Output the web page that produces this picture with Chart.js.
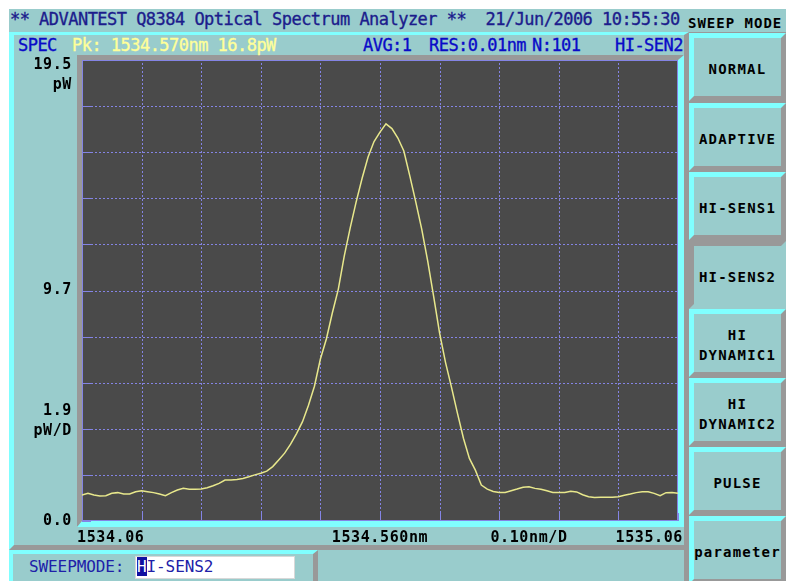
<!DOCTYPE html>
<html>
<head>
<meta charset="utf-8">
<title>Q8384 Optical Spectrum Analyzer</title>
<script src="https://cdn.jsdelivr.net/npm/chart.js@4.4.1/dist/chart.umd.min.js"></script>
<style>
  html, body { margin: 0; padding: 0; background: #ffffff; }
  #screen { position: relative; width: 786px; height: 581px; overflow: hidden; background: #ffffff;
            font-family: "DejaVu Sans Mono", "Liberation Mono", monospace; }
  .box { position: absolute; box-sizing: border-box; }
  .txt { position: absolute; white-space: pre; line-height: 20px; height: 20px; }
  #bg { left: 9px; top: 9px; width: 777px; height: 572px; background: #99cccc; }
  #btncol { left: 684px; top: 32px; width: 102px; height: 549px; background: #999999; }
  #panel { left: 9px; top: 32px; width: 680px; height: 518px;
           border-top: 3px solid #80ffff; border-left: 5px solid #80ffff;
           border-right: 5px solid #999999; border-bottom: 5px solid #999999; }
  #frame { left: 77px; top: 55px; width: 607px; height: 472px;
           border-top: 5px solid #999999; border-left: 5px solid #999999;
           border-right: 6px solid #80ffff; border-bottom: 6px solid #80ffff; }
  #status { left: 9px; top: 550px; width: 309px; height: 40px; background: #99cccc;
            border-top: 4px solid #80ffff; border-left: 4px solid #80ffff; border-right: 5px solid #999999; }
  #entry { left: 135px; top: 556px; width: 160px; height: 23px; background: #ffffff; border: 1px solid #d8d8d8; }
  .hdr { font-size: 17px; letter-spacing: -0.53px; font-weight: normal; -webkit-text-stroke: 0.35px currentColor; }
  .navy { color: #1c1c8c; }
  .blue { color: #0a0ac8; }
  .yel { color: #ffff99; }
  .btn { position: absolute; box-sizing: border-box; left: 689px; width: 97px; height: 68px; background: #99cccc;
         border-top: 5px solid #80ffff; border-left: 5px solid #80ffff;
         border-right: 5px solid #999999; border-bottom: 5px solid #999999;
         display: flex; align-items: center; justify-content: center; text-align: center;
         font-size: 14px; font-weight: bold; letter-spacing: 1.2px; line-height: 20px; color: #000000;
         white-space: pre; padding-top: 4px; }
  .btn.on { border-top-color: #999999; border-left-color: #999999; border-right-color: #99cccc; border-bottom-color: #99cccc; }
  #osa { position: absolute; left: 0; top: 0; }
  .cur { background: #1010a0; color: #ffffff; }
</style>
</head>
<body>
<div id="screen">
  <div class="box" id="bg"></div>
  <div class="box" id="btncol"></div>
  <div class="box" id="panel"></div>
  <div class="box" id="frame"></div>
  <div class="box" id="status"></div>
  <div class="box" id="entry"></div>

  <div class="txt hdr navy" id="title" style="left:10px; top:9px;"></div>
  <div class="txt" style="left:688px; top:13px; font-size:14px; font-weight:bold; letter-spacing:1px; color:#000;">SWEEP MODE</div>

  <div class="txt hdr blue" style="left:18px; top:35px;">SPEC</div>
  <div class="txt hdr yel" id="peak" style="left:72px; top:35px;"></div>
  <div class="txt hdr blue" id="avg" style="left:363px; top:35px;"></div>
  <div class="txt hdr blue" id="res" style="left:429px; top:35px;"></div>
  <div class="txt hdr blue" id="npts" style="left:532px; top:35px;"></div>
  <div class="txt hdr blue" id="modeTag" style="left:615px; top:35px;"></div>

  <div class="txt" style="left:29px; top:557px; font-size:16px; letter-spacing:-0.1px; color:#2020a8;">SWEEPMODE:</div>
  <div class="txt" id="entryText" style="left:137px; top:557px; font-size:16px; letter-spacing:-0.1px; color:#2020a8;"></div>

  <div id="buttons"></div>
  <canvas id="osa" width="786" height="581"></canvas>
</div>

<script>
// Sweep settings
const startNm = 1534.06;
const stepNm = 0.01;
const spanNm = 1.00;
const yMaxPw = 19.5;
const xDivisions = 10;
const yDivisions = 10;

// Measured spectrum, pW (101 samples, 0.01 nm apart)
const powerPw = [
  1.10, 1.17, 1.10, 1.06, 1.07, 1.17, 1.20, 1.14, 1.14, 1.24,
  1.28, 1.24, 1.20, 1.14, 1.07, 1.20, 1.31, 1.38, 1.34, 1.34,
  1.35, 1.41, 1.49, 1.59, 1.73, 1.73, 1.76, 1.80, 1.87, 1.95,
  2.02, 2.11, 2.30, 2.58, 2.87, 3.25, 3.70, 4.20, 4.90, 5.70,
  6.85, 7.70, 8.80, 9.80, 11.20, 12.40, 13.50, 14.50, 15.40, 16.05,
  16.45, 16.80, 16.60, 16.20, 15.65, 14.60, 13.50, 12.35, 11.00, 9.50,
  7.95, 6.70, 5.65, 4.55, 3.50, 2.65, 2.15, 1.52, 1.35, 1.25,
  1.21, 1.21, 1.28, 1.35, 1.43, 1.45, 1.38, 1.34, 1.28, 1.21,
  1.21, 1.21, 1.26, 1.23, 1.11, 1.03, 0.99, 1.00, 1.00, 1.00,
  1.03, 1.09, 1.14, 1.20, 1.24, 1.24, 1.17, 1.07, 1.20, 1.21,
  1.17
];

// Axis annotations
const yLabelValues = [19.5, 9.75, 3.9, 0];
const yLabelLines = [['19.5', 'pW'], ['9.7'], ['1.9', 'pW/D'], ['0.0']];
const yLabelAnchor = ['top', 'center', 'bottom', 'center'];
const xLabelValues = [1534.06, 1534.56, 1534.81, 1535.06];
const xLabelTexts = ['1534.06', '1534.560nm', '0.10nm/D', '1535.06'];
const xLabelAlign = ['left', 'center', 'center', 'right'];

// Screen text
const titleText = '** ADVANTEST Q8384 Optical Spectrum Analyzer **  21/Jun/2006 10:55:30';
const avgCount = 1;
const resolutionNm = 0.01;
const modeButtons = ['NORMAL', 'ADAPTIVE', 'HI-SENS1', 'HI-SENS2', 'HI\nDYNAMIC1', 'HI\nDYNAMIC2', 'PULSE', 'parameter'];
const buttonTops = [33, 103, 172, 241, 309, 378, 447, 516];
const activeMode = 'HI-SENS2';

const wavelengthNm = powerPw.map((_, i) => +(startNm + i * stepNm).toFixed(2));

// Header / status texts
document.getElementById('title').textContent = titleText;
let pk = 0;
powerPw.forEach((v, i) => { if (v > powerPw[pk]) pk = i; });
document.getElementById('peak').textContent = 'Pk: ' + wavelengthNm[pk].toFixed(3) + 'nm ' + powerPw[pk].toFixed(1) + 'pW';
document.getElementById('avg').textContent = 'AVG:' + avgCount;
document.getElementById('res').textContent = 'RES:' + resolutionNm.toFixed(2) + 'nm';
document.getElementById('npts').textContent = 'N:' + powerPw.length;
document.getElementById('modeTag').textContent = 'HI-SEN2';
const entry = document.getElementById('entryText');
entry.innerHTML = '<span class="cur">' + activeMode[0] + '</span>' + activeMode.slice(1);

const btnHost = document.getElementById('buttons');
modeButtons.forEach((name, i) => {
  const b = document.createElement('div');
  b.className = 'btn' + (name === activeMode ? ' on' : '');
  b.style.top = buttonTops[i] + 'px';
  b.textContent = name;
  btnHost.appendChild(b);
});

// Trace screen: background, dotted graticule, frame and scale annotations
const GRID = '#8484e4';
const osaScreen = {
  id: 'osaScreen',
  beforeDatasetsDraw(chart) {
    const { ctx, chartArea: a, scales: { x, y } } = chart;
    ctx.save();
    ctx.fillStyle = '#4a4a4a';
    ctx.fillRect(a.left, a.top, a.right - a.left, a.bottom - a.top);
    ctx.strokeStyle = GRID;
    ctx.lineWidth = 1;
    // dotted divisions
    ctx.setLineDash([2, 2]);
    x.ticks.forEach(t => {
      const px = Math.round(x.getPixelForValue(t.value)) + 0.5;
      if (px <= a.left + 1 || px >= a.right - 1) return;
      ctx.beginPath(); ctx.moveTo(px, a.bottom - 8); ctx.lineTo(px, a.top); ctx.stroke();
    });
    y.ticks.forEach(t => {
      const py = Math.round(y.getPixelForValue(t.value)) + 0.5;
      if (py <= a.top + 1 || py >= a.bottom - 1) return;
      ctx.beginPath(); ctx.moveTo(a.left + 9, py); ctx.lineTo(a.right, py); ctx.stroke();
    });
    // solid tick stubs on the left and bottom edges
    ctx.setLineDash([]);
    x.ticks.forEach(t => {
      const px = Math.round(x.getPixelForValue(t.value)) + 0.5;
      ctx.beginPath(); ctx.moveTo(px, a.bottom); ctx.lineTo(px, a.bottom - 8); ctx.stroke();
    });
    y.ticks.forEach(t => {
      const py = Math.round(y.getPixelForValue(t.value)) + 0.5;
      ctx.beginPath(); ctx.moveTo(a.left, py); ctx.lineTo(a.left + 9, py); ctx.stroke();
    });
    ctx.strokeRect(a.left + 0.5, a.top + 0.5, a.right - a.left - 1, a.bottom - a.top - 1);
    ctx.restore();
  },
  afterDraw(chart) {
    const { ctx, chartArea: a, scales: { x, y } } = chart;
    ctx.save();
    ctx.fillStyle = '#000000';
    ctx.font = 'bold 15px "DejaVu Sans Mono"';
    ctx.letterSpacing = '0.6px';
    ctx.textBaseline = 'middle';
    ctx.textAlign = 'right';
    yLabelValues.forEach((v, i) => {
      const py = y.getPixelForValue(v);
      const lines = yLabelLines[i];
      lines.forEach((s, k) => {
        let cy;
        if (yLabelAnchor[i] === 'top') cy = py + 5 + k * 20;
        else if (yLabelAnchor[i] === 'bottom') cy = py + 2.5 - (lines.length - 1 - k) * 20;
        else cy = py;
        ctx.fillText(s, a.left - 10, cy);
      });
    });
    xLabelValues.forEach((v, i) => {
      const px = x.getPixelForValue(v);
      ctx.textAlign = xLabelAlign[i];
      const dx = xLabelAlign[i] === 'left' ? -5 : xLabelAlign[i] === 'right' ? 5 : 0;
      ctx.fillText(xLabelTexts[i], px + dx, a.bottom + 17);
    });
    ctx.restore();
  }
};

new Chart(document.getElementById('osa'), {
  type: 'line',
  data: {
    datasets: [{
      data: wavelengthNm.map((w, i) => ({ x: w, y: powerPw[i] })),
      borderColor: '#e8e88c',
      borderWidth: 1.5,
      pointRadius: 0,
      tension: 0,
      fill: false
    }]
  },
  options: {
    responsive: false,
    animation: false,
    events: [],
    layout: { padding: { left: 82, top: 60, right: 108, bottom: 60 } },
    plugins: { legend: { display: false }, tooltip: { enabled: false } },
    scales: {
      x: { type: 'linear', display: false, min: startNm, max: +(startNm + spanNm).toFixed(2),
           ticks: { count: xDivisions + 1 } },
      y: { type: 'linear', display: false, min: 0, max: yMaxPw,
           ticks: { count: yDivisions + 1 } }
    }
  },
  plugins: [osaScreen]
});
</script>
</body>
</html>
